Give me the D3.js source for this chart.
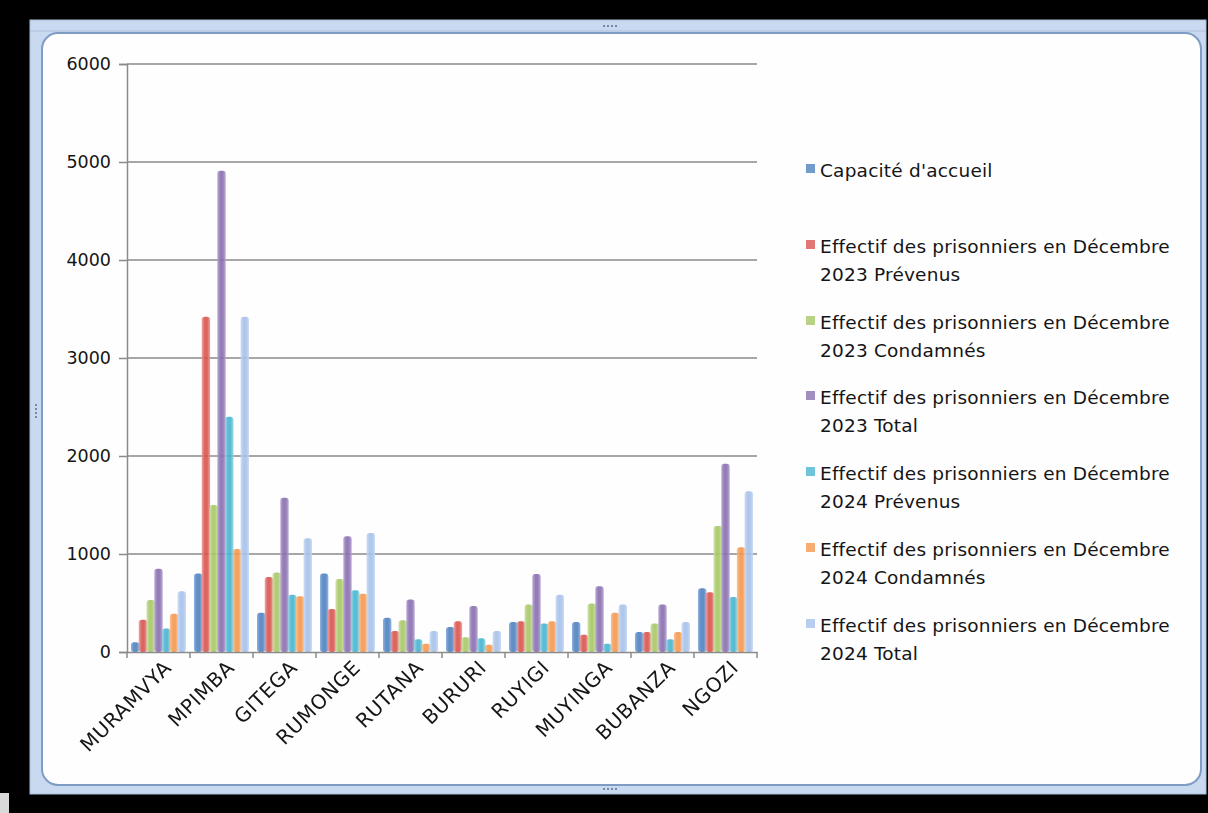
<!DOCTYPE html>
<html>
<head>
<meta charset="utf-8">
<script src="https://cdn.jsdelivr.net/npm/d3@7"></script>
<style>
  html, body { margin: 0; padding: 0; background: #000; }
  svg { display: block; }
  text { font-family: "DejaVu Sans", "Noto Sans", sans-serif; fill: #151515; }
</style>
</head>
<body>
<svg id="chart" width="1208" height="813"></svg>
<script>
// Prisons: capacity and inmate counts, December 2023 and December 2024
const categories = ["MURAMVYA", "MPIMBA", "GITEGA", "RUMONGE", "RUTANA", "BURURI", "RUYIGI", "MUYINGA", "BUBANZA", "NGOZI"];

const seriesNames = [
  "Capacité d'accueil",
  "Effectif des prisonniers en Décembre 2023 Prévenus",
  "Effectif des prisonniers en Décembre 2023 Condamnés",
  "Effectif des prisonniers en Décembre 2023 Total",
  "Effectif des prisonniers en Décembre 2024 Prévenus",
  "Effectif des prisonniers en Décembre 2024 Condamnés",
  "Effectif des prisonniers en Décembre 2024 Total"
];

const capacite      = [100,  800,  400,  800,  350, 255, 305, 305, 205,  650];
const prevenus2023  = [330,  3420, 765,  440,  215, 315, 315, 175, 205,  610];
const condamnes2023 = [530,  1500, 810,  745,  325, 150, 485, 495, 290,  1285];
const total2023     = [850,  4910, 1575, 1180, 535, 470, 795, 670, 485,  1920];
const prevenus2024  = [240,  2400, 585,  630,  130, 140, 290, 85,  130,  560];
const condamnes2024 = [390,  1050, 570,  595,  85,  75,  315, 400, 205,  1070];
const total2024     = [620,  3420, 1160, 1215, 215, 215, 585, 485, 305,  1640];

const yTicks = [0, 1000, 2000, 3000, 4000, 5000, 6000];

const seriesValues = [capacite, prevenus2023, condamnes2023, total2023, prevenus2024, condamnes2024, total2024];

// core and edge tones for each series' bar gradient
const coreColors = ["#4f82c0", "#d9544f", "#a8c868", "#8a70b0", "#4ab5cf", "#f5984f", "#a7c2ea"];
const edgeColors = ["#86a9da", "#eb9c98", "#cbdf9d", "#b3a2d0", "#8fd4e5", "#f9bd8b", "#c6d8f3"];

const svg = d3.select("#chart");
const W = 1208, H = 813;

// ---- window frame ----
svg.append("rect").attr("x", 0).attr("y", 0).attr("width", W).attr("height", H).attr("fill", "#000");
svg.append("rect").attr("x", 0).attr("y", 793).attr("width", 9).attr("height", 20).attr("fill", "#d9d9d9");
svg.append("rect")
  .attr("x", 30).attr("y", 20).attr("width", 1176).attr("height", 774)
  .attr("fill", "#c9d9ef").attr("stroke", "#a9bedc").attr("stroke-width", 1);
svg.append("line").attr("x1", 30).attr("x2", 1206).attr("y1", 31).attr("y2", 31)
  .attr("stroke", "#aebfd8").attr("stroke-width", 1);
svg.append("rect")
  .attr("x", 42).attr("y", 33).attr("width", 1159).attr("height", 752)
  .attr("rx", 16).attr("ry", 16)
  .attr("fill", "#fefefe").attr("stroke", "#7f9cc4").attr("stroke-width", 2);

// small grip dots on the frame
const grips = [[604, 26, "h"], [604, 789, "h"], [36, 405, "v"]];
grips.forEach(([gx, gy, o]) => {
  for (let i = 0; i < 4; i++) {
    svg.append("circle")
      .attr("cx", o === "h" ? gx + i * 4 : gx)
      .attr("cy", o === "h" ? gy : gy + i * 4)
      .attr("r", 1).attr("fill", "#5a6f90");
  }
});

// ---- plot area ----
const plot = { left: 127, right: 757, top: 64, bottom: 652 };

const x0 = d3.scaleBand().domain(categories).range([plot.left, plot.right]).paddingInner(0).paddingOuter(0);
const groupW = x0.bandwidth() * 7 / 8.1;
const x1 = d3.scaleBand().domain(d3.range(seriesNames.length)).range([0, groupW]).padding(0);
const y = d3.scaleLinear().domain([0, 6000]).range([plot.bottom, plot.top]);

// gridlines
svg.append("g")
  .selectAll("line").data(yTicks.filter(d => d > 0)).join("line")
  .attr("x1", plot.left).attr("x2", plot.right)
  .attr("y1", d => y(d)).attr("y2", d => y(d))
  .attr("stroke", "#8a8a8a").attr("stroke-width", 1.5);

// y axis
const yAxis = d3.axisLeft(y).tickValues(yTicks).tickSize(8).tickPadding(8).tickFormat(d3.format("d"));
const gy = svg.append("g").attr("transform", `translate(${plot.left},0)`).call(yAxis);
gy.select(".domain").attr("stroke", "#8a8a8a").attr("stroke-width", 1.5);
gy.selectAll(".tick line").attr("stroke", "#8a8a8a").attr("stroke-width", 1.5);
gy.selectAll(".tick text").style("font-size", "17.5px").style("font-family", "'DejaVu Sans', sans-serif").attr("fill", "#151515");

// gradients
const defs = svg.append("defs");
seriesNames.forEach((_, i) => {
  const g = defs.append("linearGradient").attr("id", "grad" + i)
    .attr("x1", "0%").attr("x2", "100%").attr("y1", "0%").attr("y2", "0%");
  g.append("stop").attr("offset", "0%").attr("stop-color", edgeColors[i]);
  g.append("stop").attr("offset", "35%").attr("stop-color", coreColors[i]);
  g.append("stop").attr("offset", "65%").attr("stop-color", coreColors[i]);
  g.append("stop").attr("offset", "100%").attr("stop-color", edgeColors[i]);
});
defs.append("filter").attr("id", "soft")
  .append("feGaussianBlur").attr("stdDeviation", 0.7);

// bars
const barData = [];
categories.forEach((c, ci) => {
  seriesValues.forEach((vals, si) => barData.push({ c, si, v: vals[ci] }));
});
const offset = (x0.bandwidth() - groupW) / 2;
svg.append("g").attr("filter", "url(#soft)")
  .selectAll("rect").data(barData).join("rect")
  .attr("x", d => x0(d.c) + offset + x1(d.si) - 0.3)
  .attr("width", x1.bandwidth() + 0.6)
  .attr("y", d => y(d.v))
  .attr("height", d => y(0) - y(d.v))
  .attr("rx", 3)
  .attr("fill", d => `url(#grad${d.si})`)
  .attr("opacity", 0.9);

// x axis
const xAxis = d3.axisBottom(x0).tickSize(0).tickFormat("");
const gx = svg.append("g").attr("transform", `translate(0,${plot.bottom})`).call(xAxis);
gx.select(".domain").attr("stroke", "#8a8a8a").attr("stroke-width", 1.5);
const boundaries = categories.map(c => x0(c)).concat([plot.right]);
svg.append("g").selectAll("line").data(boundaries).join("line")
  .attr("x1", d => d).attr("x2", d => d)
  .attr("y1", plot.bottom).attr("y2", plot.bottom + 6)
  .attr("stroke", "#8a8a8a").attr("stroke-width", 1.5);

svg.append("g").selectAll("text").data(categories).join("text")
  .attr("transform", d => `translate(${x0(d) + x0.bandwidth() / 2 + 14},${plot.bottom + 17}) rotate(-45)`)
  .attr("text-anchor", "end")
  .style("font-size", "20px")
  .style("letter-spacing", "0.6px")
  .text(d => d);

// legend
const legendX = 806;
const legendRows = [
  { i: 0, lines: ["Capacité d'accueil"], y: 171 },
  { i: 1, lines: ["Effectif des prisonniers en Décembre", "2023 Prévenus"], y: 247 },
  { i: 2, lines: ["Effectif des prisonniers en Décembre", "2023 Condamnés"], y: 323 },
  { i: 3, lines: ["Effectif des prisonniers en Décembre", "2023 Total"], y: 398 },
  { i: 4, lines: ["Effectif des prisonniers en Décembre", "2024 Prévenus"], y: 474 },
  { i: 5, lines: ["Effectif des prisonniers en Décembre", "2024 Condamnés"], y: 550 },
  { i: 6, lines: ["Effectif des prisonniers en Décembre", "2024 Total"], y: 626 }
];
const lg = svg.append("g");
legendRows.forEach(r => {
  lg.append("rect")
    .attr("x", legendX).attr("y", r.y - 7).attr("width", 9).attr("height", 9)
    .attr("fill", coreColors[r.i]).attr("opacity", 0.8);
  r.lines.forEach((t, li) => {
    lg.append("text")
      .attr("x", legendX + 14).attr("y", r.y + li * 28)
      .attr("dy", "0.35em")
      .style("font-size", "18.5px")
      .style("letter-spacing", "0.2px")
      .text(t);
  });
});
</script>
</body>
</html>
